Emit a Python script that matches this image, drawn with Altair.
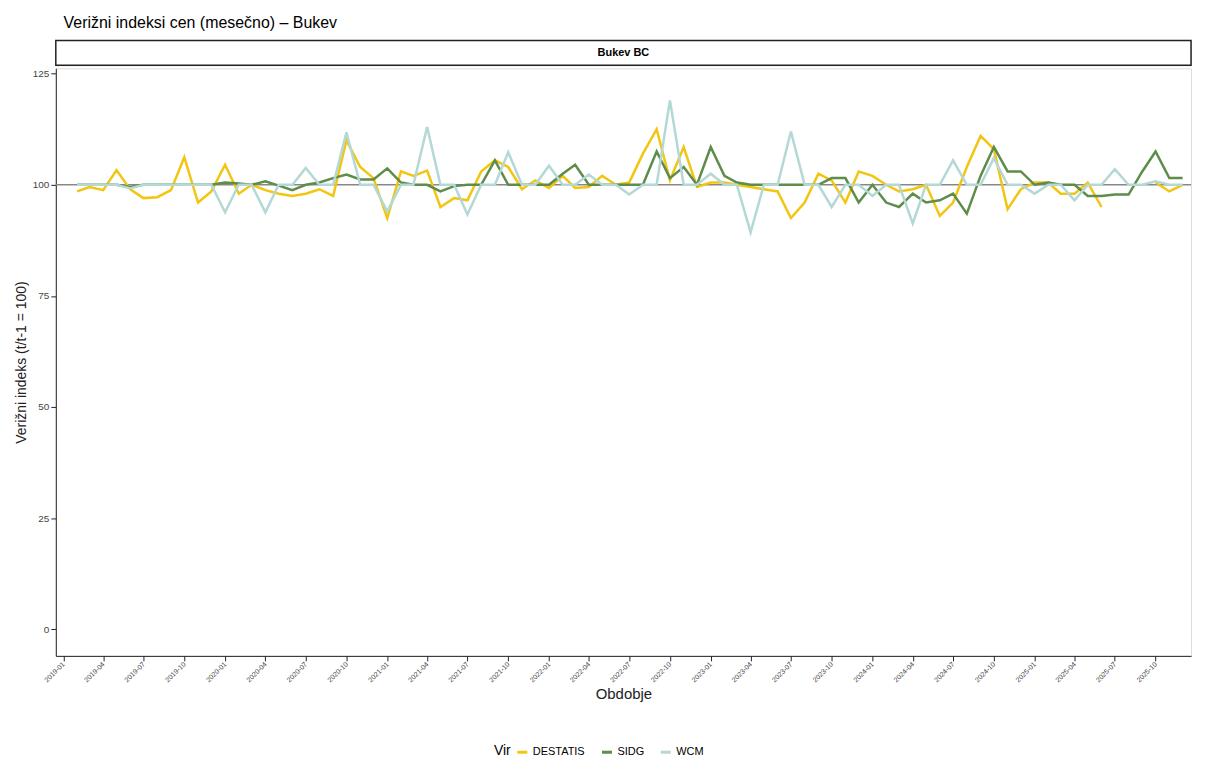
import altair as alt
import pandas as pd

months = pd.date_range("2019-02-01", "2025-12-01", freq="MS").strftime("%Y-%m-%d").tolist()

destatis = [98.5, 99.5, 98.8, 103.3, 99, 97, 97.2, 98.8, 106.2, 96, 98.5,
            104.5, 98, 100, 98.8, 98, 97.5, 98, 99, 97.5, 110, 104, 101.5,
            92.5, 103, 102, 103.2, 95, 97, 96.5, 103, 105.5, 104, 99, 101,
            99.3, 102, 99.3, 99.5, 102, 100, 100.5, 107, 112.5, 101, 108.5, 99.5,
            100.5, 100.5, 100, 99.5, 99, 98.5, 92.5, 96, 102.5, 101, 96, 103,
            102, 100, 98.5, 99, 100, 93, 96, 104, 111, 108, 94.5, 99,
            100.5, 100.5, 98, 98, 100.5, 95, None, None, None, 100.5, 98.5, 100]
sidg = [100, 100, 100, 100, 99.5, 100, 100, 100, 100, 100, 100,
        100.5, 100.3, 100, 100.8, 99.8, 98.8, 100, 100.5, 101.5, 102.3, 101.2, 101.2,
        103.7, 100.5, 100, 100, 98.5, 99.7, 100, 100, 105.5, 100, 100, 100,
        100, 102.5, 104.5, 100, 100, 100, 100, 100, 107.5, 101.5, 104, 100,
        108.5, 102, 100.5, 100, 100, 100, 100, 100, 100, 101.5, 101.5, 96,
        100, 96, 95, 98, 96, 96.5, 98, 93.5, 102, 108.5, 103, 103,
        100, 100.5, 100, 100, 97.5, 97.5, 97.8, 97.8, 103, 107.5, 101.5, 101.5]
wcm = [100, 100, 100, 100, 99.2, 100, 100, 100, 100, 100, 100,
       93.8, 100, 100, 93.8, 100, 100, 103.8, 100, 100, 111.8, 100, 100,
       94, 100, 100, 113, 100, 100, 93.3, 100, 100, 107.3, 100, 100,
       104.3, 100, 100, 102.3, 100, 100, 97.8, 100, 100, 119, 100, 100,
       102.5, 100, 100, 89.3, 100, 100, 112, 100, 100, 95, 100, 100,
       97.5, 100, 100, 91.3, 100, 100, 105.5, 100, 100, 106, 100, 100,
       98, 100, 100, 96.5, 100, 100, 103.5, 100, 100, 100.8, 100, 100]

sources = ["DESTATIS", "SIDG", "WCM"]
colors = ["#F2C511", "#5E8C4A", "#B3D8D6"]

rows = []
for name, vals in zip(sources, [destatis, sidg, wcm]):
    for m, v in zip(months, vals):
        rows.append({"obdobje": m, "vir": name, "indeks": v})
df = pd.DataFrame(rows)

W = 1140
H = 590
font = "Liberation Sans"

x = alt.X("obdobje:T", title="Obdobje",
          scale=alt.Scale(domain=["2018-12-15", "2025-12-20"], nice=False),
          axis=alt.Axis(format="%Y-%m", tickCount={"interval": "month", "step": 3},
                        labelAngle=-45, labelAlign="right", labelBaseline="middle",
                        labelFontSize=7, labelColor="#444", titleFontSize=15,
                        titleFontWeight="normal", titleColor="#222",
                        grid=False, domainColor="#222", tickColor="#222"))
y = alt.Y("indeks:Q", title="Verižni indeks (t/t-1 = 100)",
          scale=alt.Scale(domain=[-6, 126.2], nice=False, zero=False),
          axis=alt.Axis(values=[0, 25, 50, 75, 100, 125], labelFontSize=10,
                        labelColor="#444", titleFontSize=14, titleFontWeight="normal",
                        titleColor="#222", grid=False,
                        domainColor="#222", tickColor="#222"))

ref = alt.Chart(pd.DataFrame({"y": [100]})).mark_rule(color="#888", strokeWidth=1.5).encode(
    y=alt.Y("y:Q", scale=alt.Scale(domain=[-6, 126.2], nice=False)))

lines = alt.Chart(df).mark_line(strokeWidth=2.5).encode(
    x=x, y=y,
    color=alt.Color("vir:N", title="Vir",
                    scale=alt.Scale(domain=sources, range=colors),
                    legend=alt.Legend(orient="none", legendX=440, legendY=H + 118,
                                      direction="horizontal",
                                      symbolType="stroke", symbolStrokeWidth=3,
                                      titleOrient="left", titleFontSize=14,
                                      titleFontWeight="normal", labelFontSize=11)))

main = alt.layer(ref, lines).properties(width=W, height=H)

strip_df = pd.DataFrame({"t": ["Bukev BC"]})
strip = alt.layer(
    alt.Chart(strip_df).mark_rect(fill="white", stroke="#222", strokeWidth=1.5).encode(
        x=alt.value(0), x2=alt.value(W), y=alt.value(0), y2=alt.value(25)),
    alt.Chart(strip_df).mark_text(fontWeight="bold", fontSize=11, font=font).encode(
        text="t:N", x=alt.value(W / 2), y=alt.value(13)),
).properties(width=W, height=25)

chart = alt.vconcat(strip, main, spacing=0).properties(
    title=alt.TitleParams("Verižni indeksi cen (mesečno) – Bukev", anchor="start",
                          fontSize=16, fontWeight="normal", font=font, offset=8,
                          dx=50)
).configure_view(stroke=None).configure(font=font)

chart.save("out.html", embed_options={"renderer": "svg", "actions": False})
